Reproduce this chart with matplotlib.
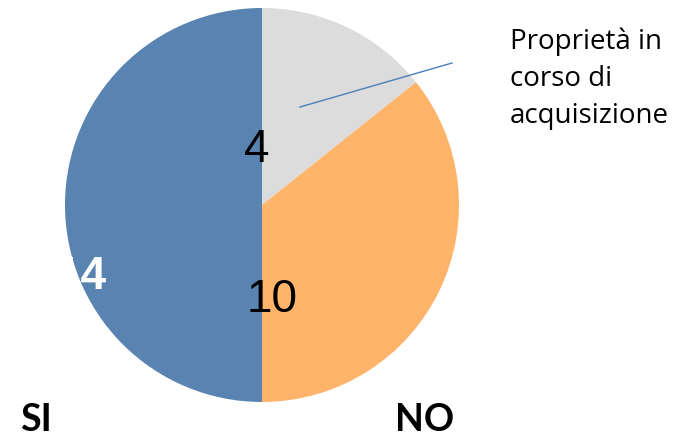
import matplotlib.pyplot as plt

# slices, clockwise from 12 o'clock
categories = ["Proprietà in corso di acquisizione", "NO", "SI"]
values = [4, 10, 14]
colors = ["#dcdcdc", "#ffb46a", "#5983b0"]
label_colors = ["black", "black", "white"]

W, H = 685, 442
cx, cy, r = 262, H - 205, 197

fig = plt.figure(figsize=(W / 100, H / 100), dpi=100)
ax = fig.add_axes([0, 0, 1, 1])

ax.pie(values, colors=colors, startangle=90, counterclock=False,
       center=(cx, cy), radius=r, frame=True,
       wedgeprops=dict(linewidth=0))
ax.set_xlim(0, W)
ax.set_ylim(0, H)
ax.set_aspect("equal")
ax.axis("off")

# value labels, offsets from the pie centre in pixels
offsets = [(-5, 55), (10, -95), (-181, -72)]
for v, (dx, dy), c, bold in zip(values, offsets, label_colors, [False, False, True]):
    ax.text(cx + dx, cy + dy, str(v), ha="center", va="center",
            fontsize=33, color=c, family="Liberation Sans",
            fontweight="bold" if bold else "normal")

# leader line and callout for the grey slice
ax.plot([300, 452], [H - 107, H - 63], color="#4a7ebb", linewidth=1)
ax.text(510, H - 79, "Proprietà in\ncorso di\nacquisizione", ha="left",
        va="center", fontsize=20, family="Open Sans", linespacing=1.42)

ax.text(36, H - 420, "SI", ha="center", va="center", fontsize=27,
        fontweight="bold", family="Lato")
ax.text(425, H - 420, "NO", ha="center", va="center", fontsize=27,
        fontweight="bold", family="Lato")

fig.savefig("out.png", dpi=100)
